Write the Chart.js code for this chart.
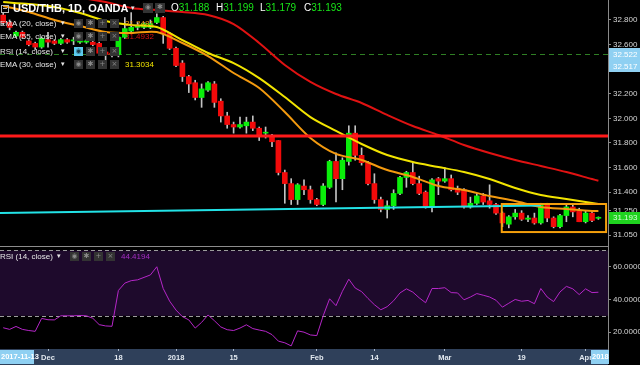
<!DOCTYPE html>
<html>
<head>
<meta charset="utf-8">
<script src="https://cdn.jsdelivr.net/npm/chart.js@4.4.1/dist/chart.umd.min.js"></script>
<style>
  body { margin: 0; background: #000; width: 640px; height: 365px; overflow: hidden; position: relative; font-family: "Liberation Sans", Arial, sans-serif; }
  canvas { position: absolute; left: 0; display: block; }
  #main { top: 0; }
  #rsiChart { top: 246px; }
  .row { position: absolute; left: 0; width: 300px; height: 11px; font-size: 8px; color: #e6e6e6; white-space: nowrap; }
  .row span { position: absolute; top: 0; line-height: 11px; }
  .row .ic { top: 1px; width: 9px; height: 9px; line-height: 9px; background: #333; color: #8a8a8a; font-size: 7px; text-align: center; font-family: "DejaVu Sans", sans-serif; }
  .row .on { background: #5cc9ee; color: #1a3a48; }
  .row .arr { font-family: "DejaVu Sans", sans-serif; font-size: 7px; }
  .sq { width: 6px; height: 6px; border: 1px solid #bbb; }
  .sq::after { content: ""; position: absolute; left: 1px; top: 2px; width: 4px; height: 1px; background: #bbb; }
  .ohlc { font-size: 10px; color: #fff; line-height: 12px !important; }
  .ohlc i { font-style: normal; color: #19e619; }
</style>
</head>
<body>
<canvas id="main" width="640" height="246"></canvas>
<canvas id="rsiChart" width="640" height="119"></canvas>

<div class="row" style="top:2px;height:13px">
  <span class="sq" style="left:1px;top:3px"></span>
  <span style="left:13px;font:bold 11px 'Liberation Sans',Arial,sans-serif;color:#fff;line-height:13px">USD/THB, 1D, OANDA</span>
  <span class="arr" style="left:131px;line-height:13px">▾</span>
  <span class="ic" style="left:143px;width:10px;height:10px">◉</span>
  <span class="ic" style="left:155px;width:10px;height:10px">✱</span>
  <span class="ohlc" style="left:171px">O<i>31.188</i></span>
  <span class="ohlc" style="left:216px">H<i>31.199</i></span>
  <span class="ohlc" style="left:260px">L<i>31.179</i></span>
  <span class="ohlc" style="left:304px">C<i>31.193</i></span>
</div>
<div id="legend"></div>

<script>
// daily candles, 2017-11-22 .. 2018-04-04
const dates = [
  '2017-11-22','2017-11-23','2017-11-24','2017-11-27','2017-11-28','2017-11-29','2017-11-30',
  '2017-12-01','2017-12-04','2017-12-05','2017-12-06','2017-12-07','2017-12-08',
  '2017-12-11','2017-12-12','2017-12-13','2017-12-14','2017-12-15',
  '2017-12-18','2017-12-19','2017-12-20','2017-12-21','2017-12-22',
  '2017-12-26','2017-12-27','2017-12-28','2017-12-29',
  '2018-01-02','2018-01-03','2018-01-04','2018-01-05',
  '2018-01-08','2018-01-09','2018-01-10','2018-01-11','2018-01-12',
  '2018-01-15','2018-01-16','2018-01-17','2018-01-18','2018-01-19',
  '2018-01-22','2018-01-23','2018-01-24','2018-01-25','2018-01-26',
  '2018-01-29','2018-01-30','2018-01-31','2018-02-01','2018-02-02',
  '2018-02-05','2018-02-06','2018-02-07','2018-02-08','2018-02-09',
  '2018-02-12','2018-02-13','2018-02-14','2018-02-15','2018-02-16',
  '2018-02-19','2018-02-20','2018-02-21','2018-02-22','2018-02-23',
  '2018-02-26','2018-02-27','2018-02-28','2018-03-01','2018-03-02',
  '2018-03-05','2018-03-06','2018-03-07','2018-03-08','2018-03-09',
  '2018-03-12','2018-03-13','2018-03-14','2018-03-15','2018-03-16',
  '2018-03-19','2018-03-20','2018-03-21','2018-03-22','2018-03-23',
  '2018-03-26','2018-03-27','2018-03-28','2018-03-29','2018-03-30',
  '2018-04-02','2018-04-03','2018-04-04'
];

const opens = [
  32.84, 32.78, 32.67, 32.70, 32.63, 32.61, 32.58, 32.64, 32.63, 32.61,
  32.64, 32.63, 32.62, 32.62, 32.62, 32.61, 32.54, 32.53, 32.52, 32.66,
  32.71, 32.74, 32.74, 32.74, 32.78, 32.82, 32.69, 32.57, 32.45, 32.34,
  32.29, 32.17, 32.23, 32.28, 32.14, 32.02, 31.95, 31.93, 31.94, 31.97,
  31.92, 31.88, 31.85, 31.82, 31.56, 31.47, 31.34, 31.45, 31.42, 31.34,
  31.30, 31.44, 31.65, 31.51, 31.65, 31.88, 31.70, 31.64, 31.47, 31.34,
  31.26, 31.29, 31.39, 31.52, 31.56, 31.47, 31.40, 31.28, 31.51, 31.49,
  31.51, 31.43, 31.42, 31.28, 31.31, 31.37, 31.33, 31.30, 31.23, 31.14,
  31.20, 31.23, 31.18, 31.19, 31.15, 31.30, 31.19, 31.12, 31.21, 31.28,
  31.25, 31.16, 31.23, 31.188
];
const highs = [
  32.86, 32.80, 32.71, 32.71, 32.64, 32.62, 32.66, 32.70, 32.64, 32.65,
  32.65, 32.66, 32.64, 32.64, 32.63, 32.62, 32.57, 32.57, 32.67, 32.82,
  32.86, 32.78, 32.78, 32.80, 32.85, 32.83, 32.70, 32.58, 32.47, 32.35,
  32.31, 32.28, 32.30, 32.30, 32.16, 32.05, 31.97, 32.01, 32.01, 32.02,
  31.93, 31.93, 31.87, 31.82, 31.58, 31.51, 31.47, 31.50, 31.45, 31.35,
  31.47, 31.66, 31.72, 31.68, 31.94, 31.94, 31.76, 31.65, 31.55, 31.36,
  31.33, 31.42, 31.53, 31.57, 31.64, 31.53, 31.41, 31.51, 31.52, 31.60,
  31.54, 31.45, 31.43, 31.36, 31.39, 31.39, 31.46, 31.31, 31.24, 31.21,
  31.26, 31.25, 31.21, 31.23, 31.31, 31.31, 31.20, 31.22, 31.30, 31.30,
  31.27, 31.25, 31.25, 31.199
];
const lows = [
  32.76, 32.72, 32.66, 32.65, 32.59, 32.56, 32.57, 32.58, 32.60, 32.60,
  32.61, 32.60, 32.61, 32.61, 32.59, 32.52, 32.46, 32.50, 32.50, 32.65,
  32.70, 32.72, 32.73, 32.73, 32.77, 32.61, 32.56, 32.42, 32.30, 32.21,
  32.15, 32.09, 32.22, 32.09, 31.97, 31.92, 31.88, 31.92, 31.88, 31.90,
  31.82, 31.84, 31.77, 31.54, 31.31, 31.30, 31.30, 31.38, 31.31, 31.29,
  31.29, 31.43, 31.32, 31.42, 31.62, 31.66, 31.62, 31.46, 31.31, 31.24,
  31.19, 31.26, 31.38, 31.44, 31.46, 31.38, 31.27, 31.24, 31.38, 31.48,
  31.41, 31.38, 31.27, 31.27, 31.30, 31.30, 31.27, 31.22, 31.12, 31.11,
  31.18, 31.17, 31.16, 31.14, 31.14, 31.16, 31.11, 31.11, 31.16, 31.20,
  31.16, 31.15, 31.16, 31.179
];
const closes = [
  32.78, 32.74, 32.70, 32.66, 32.60, 32.58, 32.65, 32.62, 32.61, 32.64,
  32.62, 32.63, 32.63, 32.63, 32.60, 32.53, 32.52, 32.52, 32.66, 32.73,
  32.74, 32.75, 32.77, 32.77, 32.82, 32.69, 32.57, 32.43, 32.34, 32.28,
  32.17, 32.24, 32.29, 32.13, 32.02, 31.95, 31.93, 31.95, 31.97, 31.92,
  31.86, 31.88, 31.81, 31.56, 31.47, 31.34, 31.46, 31.42, 31.34, 31.30,
  31.45, 31.65, 31.51, 31.66, 31.88, 31.70, 31.64, 31.47, 31.34, 31.26,
  31.29, 31.39, 31.52, 31.56, 31.47, 31.39, 31.28, 31.50, 31.49, 31.51,
  31.42, 31.40, 31.28, 31.31, 31.37, 31.32, 31.30, 31.23, 31.15, 31.20,
  31.23, 31.18, 31.19, 31.15, 31.30, 31.19, 31.12, 31.21, 31.28, 31.24,
  31.16, 31.23, 31.17, 31.193
];

// moving averages at every 4th candle
const emaIdx = [0, 4, 8, 12, 16, 20, 24, 28, 32, 36, 40, 44, 48, 52, 56, 60, 64, 68, 72, 76, 80, 84, 88, 92, 93];
const ema20 = [32.914, 32.865, 32.80, 32.751, 32.702, 32.694, 32.702, 32.613, 32.507, 32.369, 32.247, 32.052, 31.841,
  31.711, 31.662, 31.58, 31.524, 31.45, 31.418, 31.369, 31.328, 31.28, 31.263, 31.247, 31.2481];
const ema30 = [32.946, 32.93, 32.906, 32.857, 32.792, 32.76, 32.743, 32.637, 32.532, 32.45, 32.328, 32.174, 32.011,
  31.898, 31.792, 31.702, 31.645, 31.605, 31.564, 31.507, 31.434, 31.377, 31.345, 31.312, 31.3034];
const ema55 = [33.04, 33.03, 33.00, 32.98, 32.946, 32.898, 32.881, 32.865, 32.841, 32.767, 32.613, 32.434, 32.296,
  32.198, 32.125, 32.028, 31.938, 31.865, 31.784, 31.719, 31.662, 31.613, 31.564, 31.507, 31.4932];

const rsi = [
  22.7, 21.7, 23.5, 21.7, 21.0, 20.5, 28.4, 27.6, 27.5, 30.0,
  30.0, 30.0, 30.2, 30.0, 28.5, 24.6, 23.8, 23.6, 45.5, 50.0,
  51.5, 52.0, 53.5, 55.0, 60.0, 46.7, 39.0, 33.5, 29.5, 27.5,
  22.5, 26.0, 30.5, 27.0, 23.2, 21.5, 21.0, 22.5, 24.5, 22.2,
  21.3, 20.5, 18.5, 14.5, 13.5, 11.6, 20.8, 20.0, 18.3, 17.9,
  30.0, 40.4, 36.2, 45.0, 52.4, 47.0, 44.8, 40.6, 36.8, 33.7,
  35.6, 39.2, 44.0, 46.5, 44.5, 41.0, 38.0, 46.7, 46.7, 47.2,
  44.2, 44.0, 39.8, 41.5, 43.6, 42.6, 41.5, 39.5, 35.3, 37.7,
  40.0, 38.9, 39.4, 37.4, 46.7, 41.5, 38.7, 44.6, 48.0, 46.5,
  43.0, 46.5, 44.2, 44.4194
];

const priceTicks = [32.8, 32.6, 32.4, 32.2, 32.0, 31.8, 31.6, 31.4, 31.25, 31.05];
const rsiTicks = [60, 40, 20];
const tickAt = [7, 18, 27, 36, 49, 58, 69, 81, 91];
const tickText = ['Dec', '18', '2018', '15', 'Feb', '14', 'Mar', '19', 'Apr'];

// drawings on the price pane (candle index / price)
const level = 31.857;
const priceLine = 32.522;
const trend = { i0: -0.5, p0: 31.231, i1: 84, p1: 31.292 };
const box = { i0: 77.9, i1: 94.2, top: 31.304, bottom: 31.076 };
const marks = [
  { v: 32.522, bg: '#8fd0f2', fg: '#ffffff', shift: 0 },
  { v: 32.517, bg: '#8fd0f2', fg: '#ffffff', shift: 11 },
  { v: 31.193, bg: '#1fd31f', fg: '#d6ffd6', shift: 0 }
];

Chart.defaults.font.family = '"Liberation Sans", Arial, sans-serif';

const UP = '#0aee0a', DOWN = '#f20a0a', WICK = '#c2c2c2';
const labels = dates.concat(['']);
const emaPoints = vals => emaIdx.map((k, j) => ({ x: dates[k], y: vals[j] }));
const emaLine = (vals, color, order) => ({
  type: 'line', data: emaPoints(vals), borderColor: color, borderWidth: 2,
  pointRadius: 0, tension: 0.3, order: order
});

function axisFit(w) {
  return s => { s.width = w; s.paddingTop = 0; s.paddingBottom = 0; };
}

const mainDraw = {
  id: 'mainDraw',
  beforeDatasetsDraw(chart) {
    const { ctx, chartArea: a, scales: { y } } = chart;
    const py = Math.round(y.getPixelForValue(priceLine)) + 0.5;
    ctx.save();
    ctx.strokeStyle = '#2f7f24';
    ctx.lineWidth = 1;
    ctx.setLineDash([5, 4]);
    ctx.beginPath(); ctx.moveTo(a.left, py); ctx.lineTo(a.right, py); ctx.stroke();
    ctx.restore();
  },
  afterDatasetsDraw(chart) {
    const { ctx, chartArea: a, scales: { x, y } } = chart;
    ctx.save();
    ctx.beginPath(); ctx.rect(a.left, a.top, a.right - a.left, a.bottom - a.top); ctx.clip();
    // horizontal resistance
    ctx.strokeStyle = '#ff1a1a'; ctx.lineWidth = 3;
    const ly = y.getPixelForValue(level);
    ctx.beginPath(); ctx.moveTo(a.left, ly); ctx.lineTo(a.right, ly); ctx.stroke();
    // trend line
    ctx.strokeStyle = '#22e2e6'; ctx.lineWidth = 2;
    ctx.beginPath();
    ctx.moveTo(x.getPixelForValue(trend.i0), y.getPixelForValue(trend.p0));
    ctx.lineTo(x.getPixelForValue(trend.i1), y.getPixelForValue(trend.p1));
    ctx.stroke();
    // range box
    ctx.strokeStyle = '#f5a00c'; ctx.lineWidth = 2;
    const bx = x.getPixelForValue(box.i0), by = y.getPixelForValue(box.top);
    ctx.strokeRect(bx, by, x.getPixelForValue(box.i1) - bx, y.getPixelForValue(box.bottom) - by);
    ctx.restore();
  },
  afterDraw(chart) {
    const { ctx, chartArea: a, scales: { y } } = chart;
    ctx.save();
    ctx.font = '8px "Liberation Sans", Arial, sans-serif';
    ctx.textBaseline = 'middle';
    marks.forEach(m => {
      const my = y.getPixelForValue(m.v) + m.shift;
      ctx.fillStyle = m.bg;
      ctx.fillRect(a.right + 1, Math.round(my - 6), 32, 12);
      ctx.fillStyle = m.fg;
      ctx.fillText(m.v.toFixed(3), a.right + 5, my + 0.5);
    });
    ctx.restore();
  }
};

new Chart(document.getElementById('main'), {
  type: 'bar',
  data: {
    labels: labels,
    datasets: [
      emaLine(ema20, '#f39a0f', 0),
      emaLine(ema30, '#f2e400', 1),
      emaLine(ema55, '#e01212', 2),
      {
        type: 'bar', data: opens.map((o, i) => [o, closes[i]]),
        backgroundColor: opens.map((o, i) => closes[i] >= o ? UP : DOWN),
        barThickness: 5, minBarLength: 1, grouped: false, order: 5
      },
      {
        type: 'bar', data: lows.map((l, i) => [l, highs[i]]),
        backgroundColor: WICK, barThickness: 1, grouped: false, order: 6
      }
    ]
  },
  options: {
    responsive: false, animation: false, events: [],
    layout: { padding: 0 },
    plugins: { legend: { display: false }, tooltip: { enabled: false } },
    scales: {
      x: { display: false, offset: true },
      y: {
        position: 'right', min: 30.9626, max: 32.9626,
        afterBuildTicks: s => { s.ticks = priceTicks.map(v => ({ value: v })); },
        afterFit: axisFit(32),
        ticks: { autoSkip: false, padding: 2, color: '#d6d6d6', font: { size: 8 }, callback: v => v.toFixed(3) },
        grid: { drawOnChartArea: false, tickLength: 3, color: '#8a8a8a' },
        border: { color: '#8a8a8a' }
      }
    }
  },
  plugins: [mainDraw]
});

const rsiDraw = {
  id: 'rsiDraw',
  beforeDraw(chart) {
    const { ctx, chartArea: a } = chart;
    ctx.save();
    ctx.fillStyle = '#2f405a';
    ctx.fillRect(0, a.bottom, a.right, chart.height - a.bottom);
    ctx.restore();
  },
  beforeDatasetsDraw(chart) {
    const { ctx, chartArea: a, scales: { y } } = chart;
    const t = y.getPixelForValue(70), b = y.getPixelForValue(30);
    ctx.save();
    ctx.fillStyle = '#1e0a2c';
    ctx.fillRect(a.left, t, a.right - a.left, b - t);
    ctx.strokeStyle = '#9c9c9c'; ctx.lineWidth = 1; ctx.setLineDash([4, 3]);
    [t, b].forEach(p => {
      const yy = Math.round(p) + 0.5;
      ctx.beginPath(); ctx.moveTo(a.left, yy); ctx.lineTo(a.right, yy); ctx.stroke();
    });
    ctx.setLineDash([]);
    ctx.strokeStyle = '#8c8c8c';
    ctx.beginPath(); ctx.moveTo(0, 0.5); ctx.lineTo(a.right, 0.5); ctx.stroke();
    ctx.restore();
  },
  afterDraw(chart) {
    const { ctx, chartArea: a } = chart;
    const h = chart.height - a.bottom;
    ctx.save();
    ctx.font = 'bold 7.5px "Liberation Sans", Arial, sans-serif';
    ctx.textBaseline = 'middle';
    ctx.fillStyle = '#8fd0f2';
    ctx.fillRect(0, a.bottom + 1, 34, h - 2);
    ctx.fillRect(a.right - 17, a.bottom + 1, 18, h - 2);
    ctx.fillStyle = '#ffffff';
    ctx.fillText('2017-11-13', 1, a.bottom + h / 2);
    ctx.fillText('2018', a.right - 16, a.bottom + h / 2);
    ctx.restore();
  }
};

new Chart(document.getElementById('rsiChart'), {
  type: 'line',
  data: {
    labels: labels,
    datasets: [{ data: rsi, borderColor: '#b526c8', borderWidth: 1, pointRadius: 0, tension: 0 }]
  },
  options: {
    responsive: false, animation: false, events: [],
    layout: { padding: 0 },
    plugins: { legend: { display: false }, tooltip: { enabled: false } },
    scales: {
      x: {
        offset: true,
        afterFit: s => { s.height = 16; s.paddingLeft = 0; s.paddingRight = 0; },
        grid: {
          offset: false, drawOnChartArea: false, tickLength: 2,
          color: ctx => tickAt.includes(ctx.index) ? '#a9b6c8' : 'rgba(0,0,0,0)'
        },
        border: { display: false },
        ticks: {
          autoSkip: false, maxRotation: 0, minRotation: 0, padding: 2,
          color: '#e2e8ef', font: { size: 7.5, weight: 'bold' },
          callback: (v, i) => { const k = tickAt.indexOf(i); return k >= 0 ? tickText[k] : ''; }
        }
      },
      y: {
        position: 'right', min: 9.7, max: 72.7,
        afterBuildTicks: s => { s.ticks = rsiTicks.map(v => ({ value: v })); },
        afterFit: axisFit(32),
        ticks: { autoSkip: false, padding: 2, color: '#d6d6d6', font: { size: 8 }, callback: v => v.toFixed(4) },
        grid: { drawOnChartArea: false, tickLength: 3, color: '#8a8a8a' },
        border: { color: '#8a8a8a' }
      }
    }
  },
  plugins: [rsiDraw]
});

// indicator legend rows
const rows = [
  { top: 18, name: 'EMA (20, close)', value: '31.2481', color: '#f39a0f' },
  { top: 31, name: 'EMA (55, close)', value: '31.4932', color: '#d81010' },
  { top: 46, name: 'RSI (14, close)', value: '', color: '', on: true },
  { top: 59, name: 'EMA (30, close)', value: '31.3034', color: '#f2e400' },
  { top: 251, name: 'RSI (14, close)', value: '44.4194', color: '#a52fc4', x: 70 }
];
const glyphs = ['◉', '✱', '+', '×'];
const legend = document.getElementById('legend');
rows.forEach(r => {
  const x0 = r.x || 74;
  let html = `<span style="left:0">${r.name}</span><span class="arr" style="left:${x0 - 13}px">▾</span>`;
  glyphs.forEach((g, k) => {
    html += `<span class="ic${r.on && k === 0 ? ' on' : ''}" style="left:${x0 + k * 12}px">${g}</span>`;
  });
  if (r.value) html += `<span style="left:${x0 + 51}px;color:${r.color}">${r.value}</span>`;
  const div = document.createElement('div');
  div.className = 'row';
  div.style.top = r.top + 'px';
  div.innerHTML = html;
  legend.appendChild(div);
});
</script>
</body>
</html>
